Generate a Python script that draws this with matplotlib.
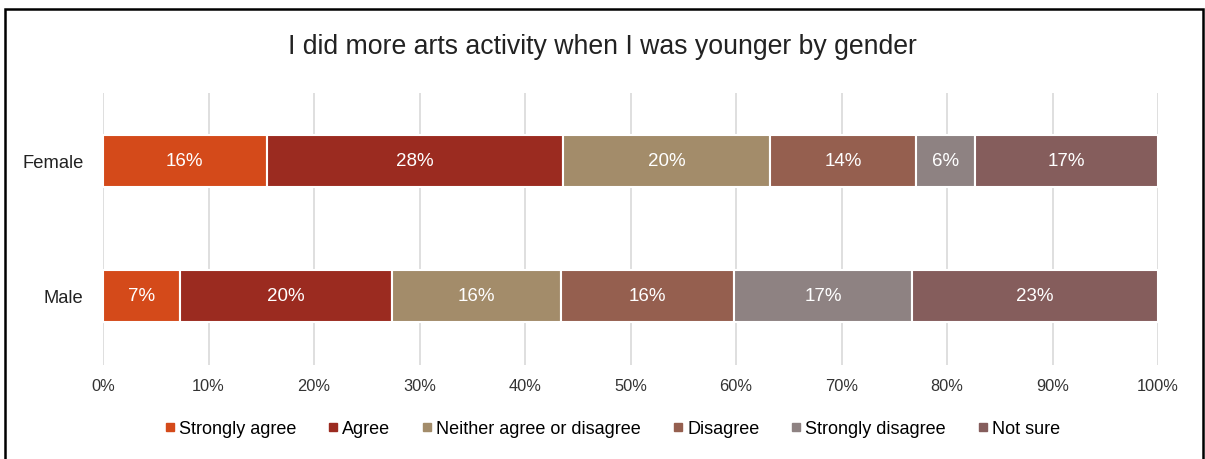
import matplotlib
matplotlib.use("Agg")
import matplotlib.pyplot as plt
from matplotlib.patches import Rectangle
from matplotlib.lines import Line2D

plt.rcParams['font.family'] = ['Liberation Sans', 'DejaVu Sans']

categories = ["Male", "Female"]
series_names = ["Strongly agree", "Agree", "Neither agree or disagree",
                "Disagree", "Strongly disagree", "Not sure"]
strongly_agree = [7.3, 15.5]
agree = [20.1, 28.1]
neither = [16.0, 19.6]
disagree = [16.4, 13.9]
strongly_disagree = [16.9, 5.6]
not_sure = [23.3, 17.3]
labels_male = ["7%", "20%", "16%", "16%", "17%", "23%"]
labels_female = ["16%", "28%", "20%", "14%", "6%", "17%"]
xticks = [0, 10, 20, 30, 40, 50, 60, 70, 80, 90, 100]
xtick_labels = [f"{v}%" for v in xticks]
colors = ["#D44A1A", "#9B2B20", "#A38C6A", "#955F4F", "#8E8282", "#855D5C"]

series = [strongly_agree, agree, neither, disagree, strongly_disagree, not_sure]

W, H = 1205, 459
fig = plt.figure(figsize=(W / 100, H / 100), dpi=100)
ax = fig.add_axes([103 / W, 1 - 365 / H, (1158 - 103) / W, (365 - 93) / H])

ypos = [0, 1]
left = [0.0, 0.0]
for i, (vals, c) in enumerate(zip(series, colors)):
    bars = ax.barh(ypos, vals, left=left, height=0.39, color=c,
                   edgecolor="white", linewidth=1.5, zorder=3)
    labs = [labels_male[i], labels_female[i]]
    ax.bar_label(bars, labels=labs, label_type="center", color="white",
                 fontsize=13.5)
    left = [l + v for l, v in zip(left, vals)]

ax.set_xlim(0, 100)
ax.set_ylim(-0.51, 1.505)
ax.set_xticks(xticks)
ax.set_xticklabels(xtick_labels, fontsize=11.8, color="#333333")
ax.set_yticks(ypos)
ax.set_yticklabels(categories, fontsize=13.2, color="#222222")
ax.tick_params(axis="x", length=0, pad=10)
ax.tick_params(axis="y", length=0, pad=14)
ax.grid(axis="x", color="#D9D9D9", linewidth=1.2, zorder=0)
for s in ax.spines.values():
    s.set_visible(False)

fig.text(0.5, 1 - 47 / H, "I did more arts activity when I was younger by gender",
         ha="center", va="center", fontsize=19.2, color="#222222")

handles = [Line2D([0], [0], marker="s", linestyle="none", markersize=6,
                  markerfacecolor=c, markeredgecolor=c) for c in colors]
fig.legend(handles, series_names, loc="center", bbox_to_anchor=(0.508, 1 - 429 / H),
           ncol=6, frameon=False, fontsize=13, handlelength=0.6,
           handletextpad=0.2, columnspacing=1.75)

fig.patches.append(Rectangle((5 / W, -0.1), (1203 - 5) / W, 1.1 - 9 / H,
                             transform=fig.transFigure, fill=False,
                             edgecolor="black", linewidth=1.8))

fig.savefig("out.png", dpi=100, facecolor="white")
